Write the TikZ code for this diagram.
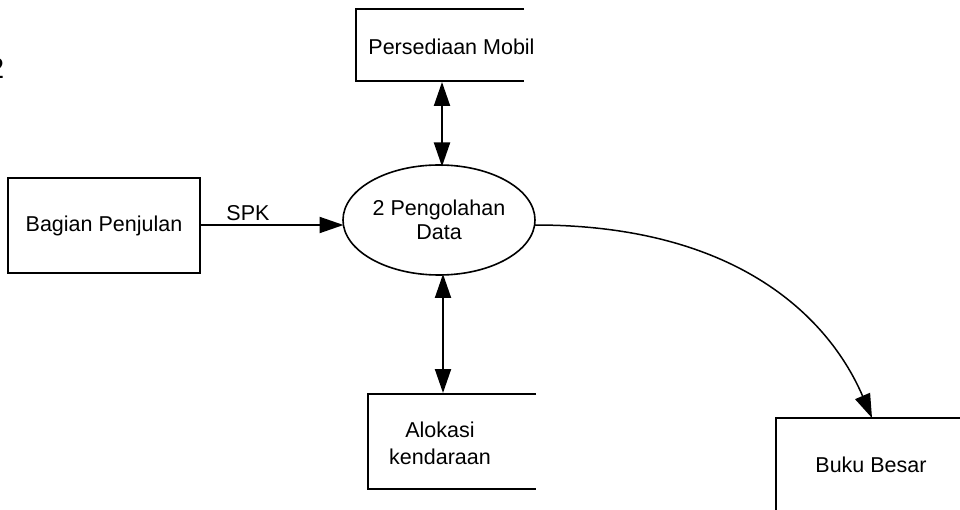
\documentclass[tikz,border=0pt]{standalone}
\usepackage{fontspec}
\setmainfont{Liberation Sans}
\usetikzlibrary{arrows.meta,shapes.geometric}
\begin{document}
\begin{tikzpicture}[x=1pt,y=-1pt,
  lbl/.style={font=\fontsize{21.5}{25}\selectfont, inner sep=0pt, align=center},
  tip/.style={-{Triangle[length=24pt,width=16pt]}},
  dtip/.style={{Triangle[length=24pt,width=16pt]}-{Triangle[length=24pt,width=16pt]}},
  boxline/.style={line width=2pt},
  flow/.style={line width=2pt}]
\useasboundingbox (0,0) rectangle (960,510);
% partial number at left edge
\node[font=\fontsize{29}{30}\selectfont, anchor=east, inner sep=0pt] (num) at (4.5,68) {2};
% data store: Persediaan Mobil
\node[minimum width=168pt, minimum height=72pt, inner sep=0pt] (pm) at (440,45) {};
\draw[boxline] (524,9) -- (356,9) -- (356,81) -- (524,81);
\node[lbl] (pmt) at (451.5,47) {Persediaan Mobil};
% external entity
\node[draw, boxline, minimum width=192pt, minimum height=95pt, inner sep=0pt, lbl] (bp) at (104,225.5) {Bagian Penjulan};
% process
\node[draw, ellipse, line width=1.6pt, minimum width=192pt, minimum height=110pt, inner sep=0pt, lbl, font=\fontsize{21.5}{23.5}\selectfont] (pe) at (439,220) {2 Pengolahan\\Data};
% data store: Alokasi kendaraan
\node[minimum width=168pt, minimum height=95pt, inner sep=0pt] (ak) at (452,441.5) {};
\draw[boxline] (536,394) -- (368,394) -- (368,489) -- (536,489);
\node[lbl, font=\fontsize{21.5}{27}\selectfont] (akt) at (440,443) {Alokasi\\kendaraan};
% Buku Besar
\coordinate (bbtop) at (872,418);
\draw[boxline] (962,418) -- (776,418) -- (776,512);
\node[lbl] (bb) at (871,465) {Buku Besar};
% connectors
\draw[flow, tip] (bp.east |- 0,225) -- (343.5,225) coordinate (pin);
\node[lbl] (spk) at (248,213) {SPK};
\draw[flow, dtip] (442,82) coordinate (pmb) -- (442,166.5) coordinate (pet);
\draw[flow, dtip] (443,274) coordinate (peb) -- (443,393) coordinate (akb);
\draw[line width=1.5pt, tip] (535,225) .. controls (740,225) and (830,320) .. (bbtop);
\end{tikzpicture}
\end{document}
